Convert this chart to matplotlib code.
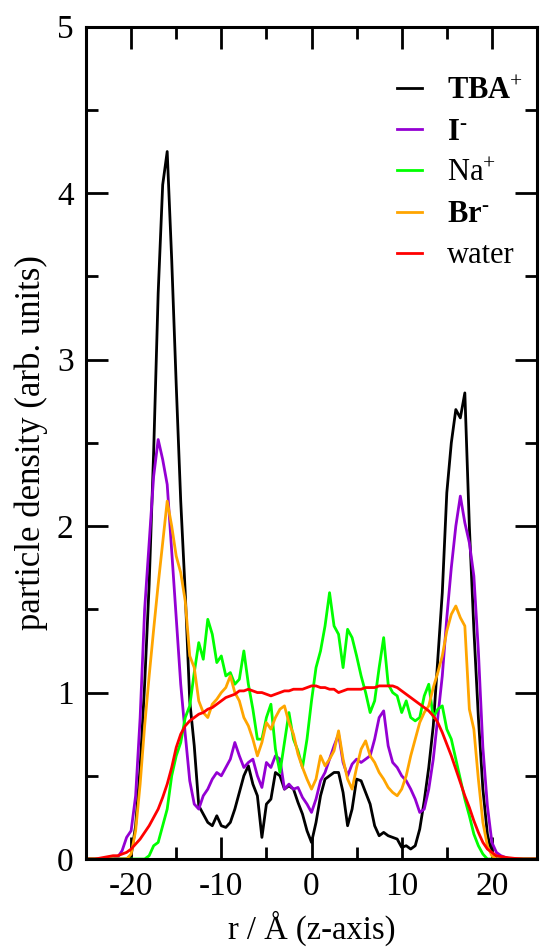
import numpy as np
import matplotlib
matplotlib.use("Agg")
import matplotlib.pyplot as plt

# ---------------- data ----------------
r = np.arange(-25.0, 25.01, 0.5)

tba = [0, 0, 0, 0, 0, 0, 0, 0, 0, 0,
       0.02, 0.2, 0.55, 1.05, 1.65, 2.45, 3.4, 4.05, 4.25, 3.6,
       2.85, 2.15, 1.6, 0.95, 0.68, 0.32, 0.27, 0.22, 0.2, 0.26,
       0.2, 0.19, 0.22, 0.3, 0.4, 0.5, 0.56, 0.45, 0.38, 0.13,
       0.33, 0.36, 0.52, 0.5, 0.42, 0.44, 0.42, 0.34, 0.27, 0.17,
       0.1, 0.22, 0.38, 0.48, 0.5, 0.52, 0.52, 0.4, 0.2, 0.3,
       0.48, 0.47, 0.4, 0.33, 0.2, 0.14, 0.16, 0.14, 0.13, 0.12,
       0.07, 0.08, 0.06, 0.08, 0.18, 0.35, 0.55, 0.8, 1.2, 1.6,
       2.2, 2.5, 2.7, 2.65, 2.8, 2.0, 1.38, 0.85, 0.42, 0.15,
       0.03, 0, 0, 0, 0, 0, 0, 0, 0, 0, 0]

iodide = [0, 0, 0, 0, 0, 0, 0, 0.01, 0.05, 0.13,
          0.17, 0.38, 0.85, 1.5, 1.9, 2.3, 2.52, 2.4, 2.25, 1.85,
          1.45, 1.05, 0.75, 0.47, 0.33, 0.3, 0.38, 0.42, 0.48, 0.52,
          0.5, 0.55, 0.6, 0.7, 0.62, 0.55, 0.58, 0.6, 0.5, 0.43,
          0.58, 0.55, 0.62, 0.6, 0.42, 0.45, 0.42, 0.43, 0.37, 0.33,
          0.28, 0.36, 0.47, 0.52, 0.6, 0.68, 0.75, 0.58, 0.5, 0.57,
          0.6, 0.58, 0.6, 0.62, 0.72, 0.85, 0.89, 0.68, 0.58, 0.55,
          0.5, 0.47, 0.42, 0.36, 0.28, 0.3, 0.42, 0.6, 0.85, 1.1,
          1.45, 1.75, 2.0, 2.18, 2.02, 1.9, 1.7, 1.25, 0.67, 0.32,
          0.1, 0.04, 0.02, 0.01, 0, 0, 0, 0, 0, 0, 0]

sodium = [0, 0, 0, 0, 0, 0, 0, 0, 0, 0,
          0, 0, 0, 0, 0.02, 0.08, 0.1, 0.2, 0.3, 0.5,
          0.62, 0.7, 0.85, 0.92, 1.12, 1.3, 1.2, 1.44, 1.35, 1.18,
          1.22, 1.1, 1.12, 1.05, 1.08, 1.25, 1.05, 0.9, 0.72, 0.72,
          0.85, 0.93, 0.66, 0.52, 0.7, 0.88, 0.72, 0.65, 0.55, 0.72,
          0.95, 1.15, 1.25, 1.4, 1.6, 1.4, 1.35, 1.15, 1.38, 1.33,
          1.22, 1.1, 1.0, 0.88, 0.95, 1.15, 1.33, 1.05, 1.0, 0.98,
          0.88, 0.95, 0.85, 0.83, 0.85, 0.98, 1.05, 0.85, 0.9, 0.92,
          0.78, 0.72, 0.6, 0.48, 0.36, 0.26, 0.15, 0.08, 0.03, 0.0,
          0, 0, 0, 0, 0, 0, 0, 0, 0, 0, 0]

bromide = [0, 0, 0, 0, 0, 0, 0, 0, 0, 0,
           0.03, 0.17, 0.45, 0.8, 1.1, 1.38, 1.65, 1.9, 2.15, 2.0,
           1.82, 1.72, 1.55, 1.22, 1.15, 0.95, 0.88, 0.85, 0.93, 0.96,
           1.0, 1.03, 1.1, 1.0, 0.95, 0.85, 0.8, 0.72, 0.62, 0.7,
           0.82, 0.78, 0.85, 0.9, 0.92, 0.82, 0.75, 0.63, 0.55, 0.48,
           0.42, 0.48, 0.62, 0.56, 0.6, 0.65, 0.77, 0.6, 0.48, 0.42,
           0.55, 0.66, 0.71, 0.62, 0.58, 0.52, 0.48, 0.43, 0.4, 0.38,
           0.42, 0.5, 0.62, 0.72, 0.82, 0.88, 0.92, 1.03, 1.12, 1.22,
           1.37, 1.47, 1.52, 1.45, 1.4, 0.9, 0.78, 0.48, 0.22, 0.08,
           0.02, 0, 0, 0, 0, 0, 0, 0, 0, 0, 0]

water = [0, 0, 0, 0.005, 0.01, 0.015, 0.02, 0.02, 0.03, 0.04,
         0.06, 0.09, 0.12, 0.16, 0.2, 0.25, 0.3, 0.37, 0.45, 0.55,
         0.67, 0.75, 0.8, 0.83, 0.85, 0.87, 0.88, 0.9, 0.91, 0.93,
         0.95, 0.97, 0.98, 0.99, 1.01, 1.01, 1.02, 1.01, 1.0, 1.0,
         0.99, 0.98, 0.99, 1.0, 1.01, 1.01, 1.02, 1.02, 1.02, 1.03,
         1.04, 1.04, 1.03, 1.03, 1.02, 1.02, 1.0, 1.01, 1.02, 1.02,
         1.02, 1.02, 1.03, 1.03, 1.03, 1.04, 1.04, 1.04, 1.04, 1.03,
         1.01, 0.99, 0.97, 0.95, 0.93, 0.91, 0.89, 0.86, 0.82, 0.76,
         0.69, 0.62, 0.54, 0.46, 0.38, 0.31, 0.23, 0.16, 0.1, 0.06,
         0.04, 0.02, 0.015, 0.01, 0.007, 0.004, 0.002, 0, 0, 0, 0]

series = [
    (tba, "black", r"$\mathbf{TBA}^{\text{+}}$"),
    (iodide, "#9400d3", r"$\mathbf{I}^{\text{-}}$"),
    (sodium, "#00ff00", r"Na$^{\text{+}}$"),
    (bromide, "#ffa500", r"$\mathbf{Br}^{\text{-}}$"),
    (water, "#ff0000", "water"),
]

# ---------------- style ----------------
plt.rcParams["font.family"] = ["Liberation Serif", "DejaVu Serif"]
plt.rcParams["mathtext.fontset"] = "custom"
plt.rcParams["mathtext.rm"] = "Liberation Serif"
plt.rcParams["mathtext.it"] = "Liberation Serif:italic"
plt.rcParams["mathtext.bf"] = "Liberation Serif:bold"
plt.rcParams["axes.unicode_minus"] = False

fig = plt.figure(figsize=(5.41, 9.49), dpi=100)
ax = fig.add_axes([0.159, 0.0948, 0.8336, 0.8771])

for vals, col, lab in series:
    ax.plot(r, vals, color=col, lw=2.0, label=lab)

ax.set_xlim(-25, 25)
ax.set_ylim(0, 5)
ax.set_xticks([-20, -10, 0, 10, 20])
ax.set_xticks(np.arange(-25, 26, 5), minor=True)
ax.set_yticks([0, 1, 2, 3, 4, 5])
ax.set_yticks(np.arange(0, 5.01, 0.5), minor=True)

for s in ax.spines.values():
    s.set_linewidth(2.2)

ax.tick_params(which="both", direction="in", top=True, right=True, width=2.0,
               labelsize=24)
ax.tick_params(which="major", length=16, pad=9)
ax.tick_params(which="minor", length=8.5)

ax.set_xlabel("r / Å (z-axis)", fontsize=23.5, labelpad=6)
ax.set_ylabel("particle density (arb. units)", fontsize=25, labelpad=6)

leg = ax.legend(loc="upper left", bbox_to_anchor=(0.69, 0.94), frameon=False,
                fontsize=22, handlelength=0.82, handletextpad=0.82,
                labelspacing=0.4, borderpad=0, borderaxespad=0)

fig.savefig("out.png", dpi=100)
